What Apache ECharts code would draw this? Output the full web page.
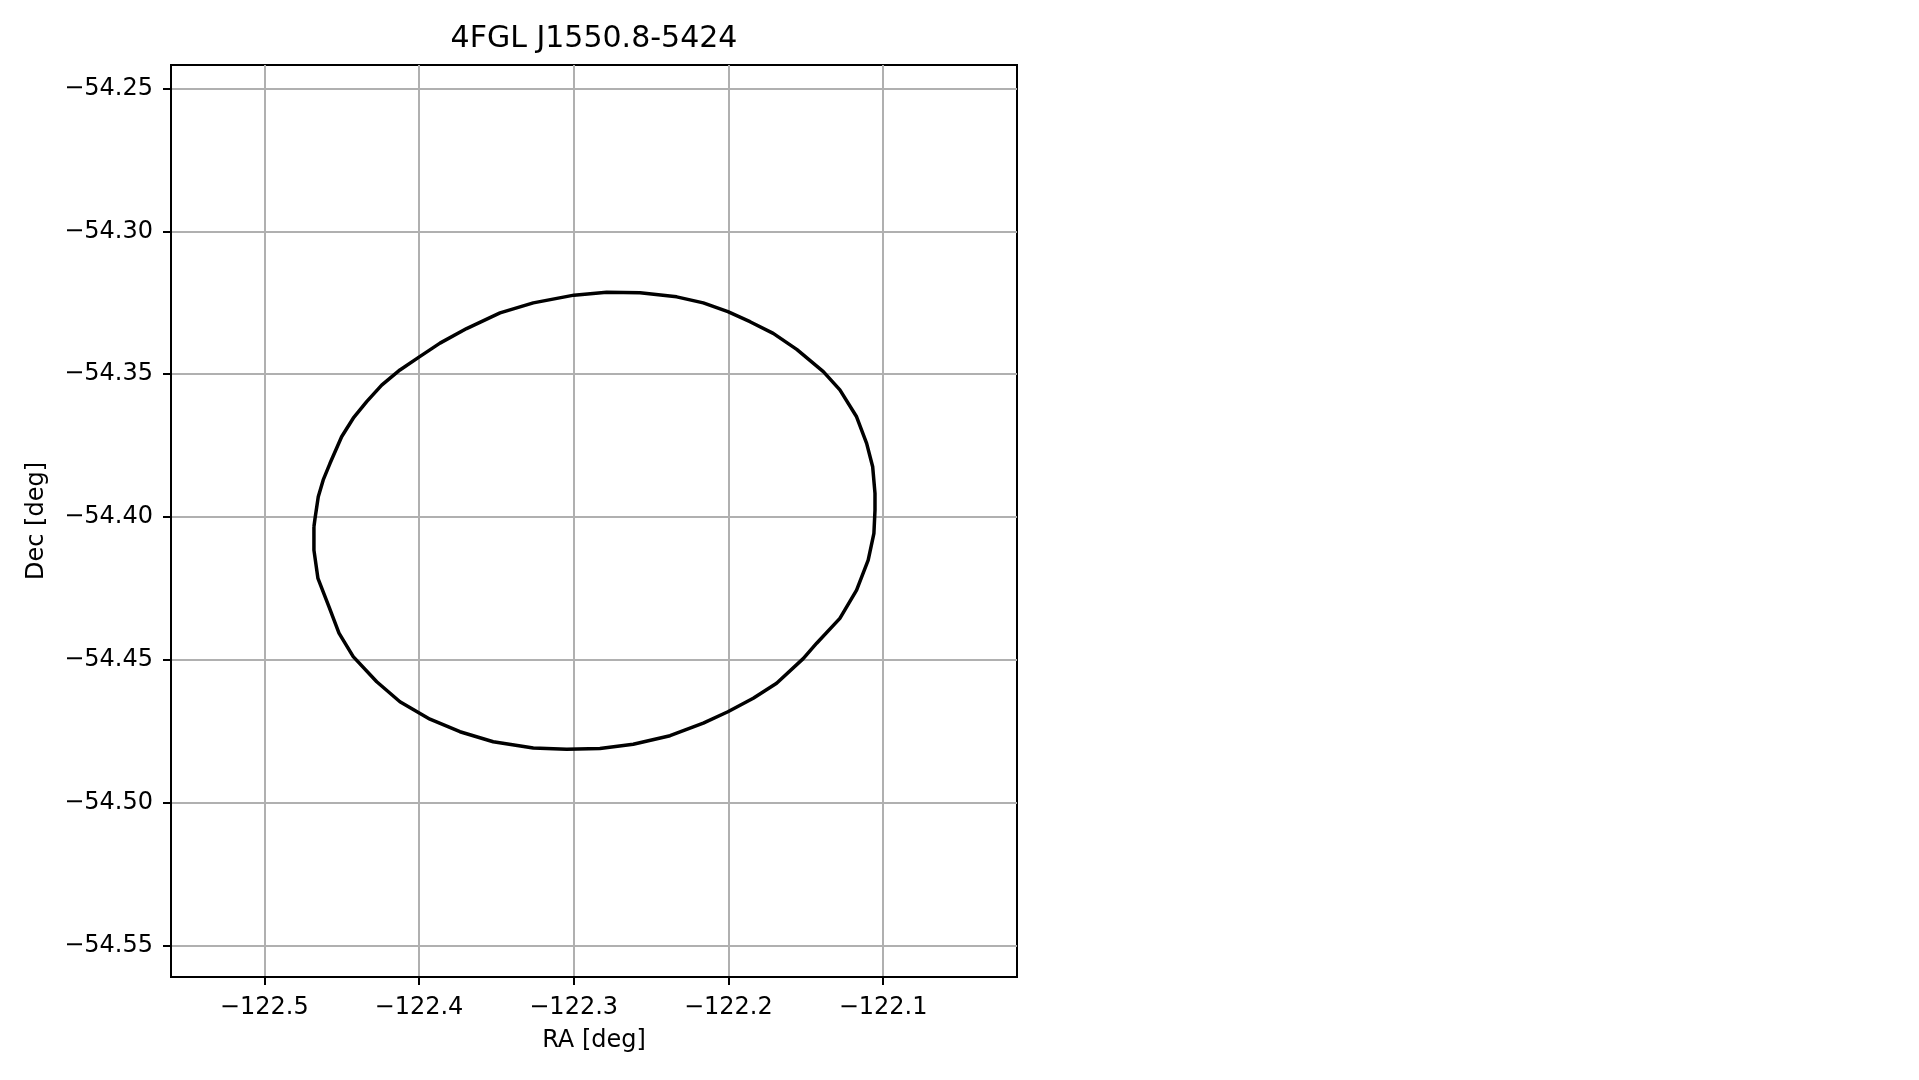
<!DOCTYPE html>
<html>
<head>
<meta charset="utf-8">
<script src="https://cdn.jsdelivr.net/npm/echarts@6/dist/echarts.min.js"></script>
<style>
html,body{margin:0;padding:0;background:#fff;}
#chart{width:1919px;height:1080px;}
</style>
</head>
<body>
<div id="chart"></div>
<script>
const titleText = '4FGL J1550.8-5424';
const xName = 'RA [deg]';
const yName = 'Dec [deg]';

// Contour vertices (RA, Dec in degrees)
const ellipseRA = [
  -122.4679, -122.4672, -122.4651, -122.4619, -122.4575, -122.4500, -122.4425, -122.4338,
  -122.4241, -122.4123, -122.4000, -122.3864, -122.3692, -122.3476, -122.3261, -122.2998,
  -122.2787, -122.2571, -122.2334, -122.2162, -122.2003, -122.1860, -122.1710, -122.1558,
  -122.1386, -122.1279, -122.1171, -122.1106, -122.1067, -122.1052, -122.1052, -122.1059,
  -122.1096, -122.1171, -122.1279, -122.1429, -122.1516, -122.1688, -122.1839, -122.2003,
  -122.2162, -122.2377, -122.2615, -122.2830, -122.3045, -122.3261, -122.3520, -122.3735,
  -122.3929, -122.4123, -122.4273, -122.4425, -122.4517, -122.4582, -122.4653, -122.4679
];
const ellipseDec = [
  -54.4034, -54.4005, -54.3929, -54.3870, -54.3812, -54.3719, -54.3654, -54.3596,
  -54.3538, -54.3485, -54.3440, -54.3391, -54.3340, -54.3285, -54.3250, -54.3223,
  -54.3213, -54.3215, -54.3229, -54.3250, -54.3281, -54.3316, -54.3357, -54.3413,
  -54.3491, -54.3555, -54.3649, -54.3742, -54.3824, -54.3917, -54.3976, -54.4057,
  -54.4151, -54.4256, -54.4355, -54.4442, -54.4496, -54.4582, -54.4635, -54.4682,
  -54.4722, -54.4766, -54.4796, -54.4811, -54.4813, -54.4809, -54.4787, -54.4752,
  -54.4708, -54.4647, -54.4577, -54.4489, -54.4407, -54.4314, -54.4215, -54.4116
];

const xTicks = [-122.5, -122.4, -122.3, -122.2, -122.1];
const yTicks = [-54.55, -54.50, -54.45, -54.40, -54.35, -54.30, -54.25];
const xLimits = [-122.5603, -122.0134];
const yLimits = [-54.5611, -54.2417];

const pts = ellipseRA.map((r, i) => [r, ellipseDec[i]]);
pts.push(pts[0].slice());

function fmt(v, d) {
  return (v < 0 ? '\u2212' : '') + Math.abs(v).toFixed(d);
}

const FONT = 'DejaVu Sans';
const chart = echarts.init(document.getElementById('chart'), null, {renderer: 'canvas'});
const axisCommon = {
  type: 'value',
  axisLine: {show: true, onZero: false, lineStyle: {color: '#000', width: 2}},
  axisTick: {show: true, inside: false, length: 8, lineStyle: {color: '#000', width: 2}},
  splitLine: {show: true, lineStyle: {color: '#b0b0b0', width: 2}},
  nameLocation: 'middle',
  nameTextStyle: {color: '#000', fontSize: 24, fontFamily: FONT},
  scale: true
};
chart.setOption({
  animation: false,
  backgroundColor: '#fff',
  title: {
    text: titleText,
    left: 594,
    top: 24,
    textAlign: 'center',
    padding: 0,
    textStyle: {color: '#000', fontSize: 30, fontWeight: 'normal', fontFamily: FONT}
  },
  grid: {
    left: 171, top: 65, width: 846, height: 912,
    show: true, borderColor: '#000', borderWidth: 2, backgroundColor: 'transparent',
    containLabel: false, outerBoundsMode: 'none'
  },
  xAxis: Object.assign({}, axisCommon, {
    min: xLimits[0], max: xLimits[1],
    name: xName, nameGap: 52,
    axisTick: Object.assign({}, axisCommon.axisTick, {customValues: xTicks}),
    axisLabel: {customValues: xTicks, color: '#000', fontSize: 24, fontFamily: FONT, margin: 19,
      formatter: v => fmt(v, 1)}
  }),
  yAxis: Object.assign({}, axisCommon, {
    min: yLimits[0], max: yLimits[1],
    name: yName, nameGap: 122, nameRotate: 90,
    axisTick: Object.assign({}, axisCommon.axisTick, {customValues: yTicks}),
    axisLabel: {customValues: yTicks, color: '#000', fontSize: 24, fontFamily: FONT, margin: 18,
      formatter: v => fmt(v, 2)}
  }),
  series: [{
    type: 'line',
    data: pts,
    showSymbol: false,
    symbol: 'none',
    smooth: false,
    lineStyle: {color: '#000', width: 3.5},
    z: 5
  }]
});
</script>
</body>
</html>
